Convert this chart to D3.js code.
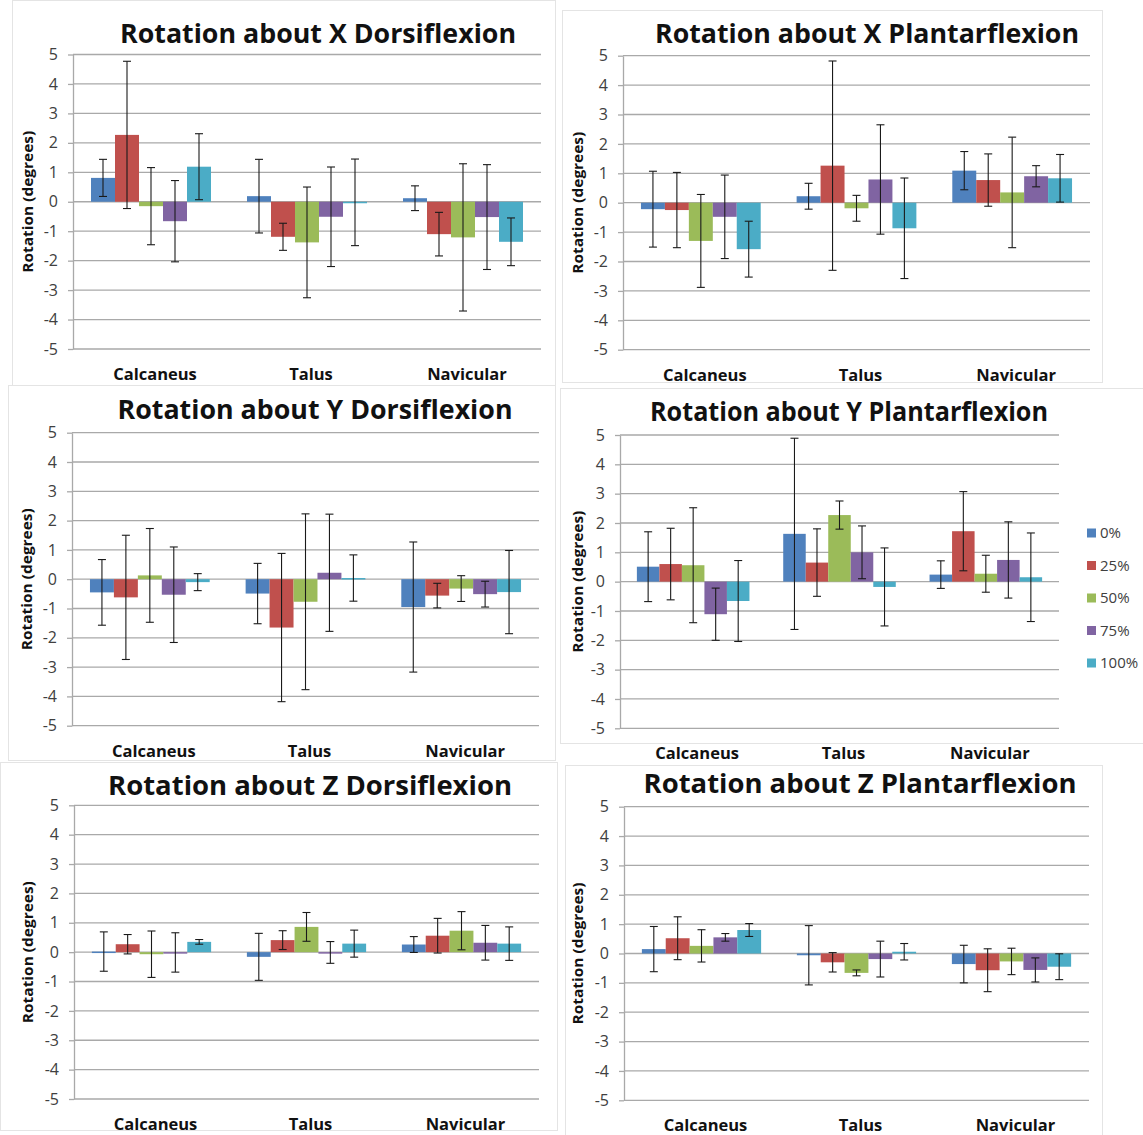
<!DOCTYPE html>
<html>
<head>
<meta charset="utf-8">
<script src="https://cdn.jsdelivr.net/npm/d3@7"></script>
<style>
  body { margin: 0; background: #fff; }
  text { font-family: 'Open Sans', sans-serif; }
</style>
</head>
<body>
<svg id="chart" width="1143" height="1135"></svg>
<script>
const categories = ['Calcaneus', 'Talus', 'Navicular']
const seriesNames = ['0%', '25%', '50%', '75%', '100%']
const yTicks = [-5, -4, -3, -2, -1, 0, 1, 2, 3, 4, 5]

// mean rotation per bone (rows) and load (cols), and the error bar half length
const xDorsiMean = [[0.81, 2.27, -0.15, -0.66, 1.19], [0.19, -1.19, -1.38, -0.51, -0.02], [0.12, -1.10, -1.21, -0.52, -1.36]]
const xDorsiErr = [[0.63, 2.50, 1.31, 1.38, 1.12], [1.25, 0.46, 1.88, 1.69, 1.47], [0.42, 0.74, 2.50, 1.78, 0.81]]

const xPlantarMean = [[-0.22, -0.25, -1.30, -0.48, -1.58], [0.22, 1.26, -0.19, 0.79, -0.87], [1.09, 0.77, 0.35, 0.90, 0.83]]
const xPlantarErr = [[1.29, 1.28, 1.58, 1.42, 0.95], [0.44, 3.56, 0.44, 1.86, 1.71], [0.65, 0.89, 1.88, 0.36, 0.81]]

const yDorsiMean = [[-0.45, -0.62, 0.13, -0.53, -0.10], [-0.49, -1.65, -0.77, 0.22, 0.04], [-0.95, -0.56, -0.32, -0.51, -0.44]]
const yDorsiErr = [[1.12, 2.12, 1.60, 1.63, 0.29], [1.03, 2.53, 3.00, 2.00, 0.79], [2.22, 0.42, 0.44, 0.44, 1.42]]

const yPlantarMean = [[0.51, 0.60, 0.56, -1.11, -0.66], [1.63, 0.65, 2.27, 1.00, -0.18], [0.24, 1.72, 0.27, 0.74, 0.15]]
const yPlantarErr = [[1.19, 1.22, 1.96, 0.89, 1.38], [3.26, 1.15, 0.48, 0.90, 1.33], [0.47, 1.35, 0.63, 1.30, 1.51]]

const zDorsiMean = [[0.02, 0.27, -0.07, -0.01, 0.35], [-0.16, 0.41, 0.86, -0.01, 0.29], [0.26, 0.56, 0.73, 0.32, 0.29]]
const zDorsiErr = [[0.67, 0.33, 0.79, 0.67, 0.08], [0.80, 0.32, 0.49, 0.37, 0.46], [0.27, 0.59, 0.65, 0.59, 0.57]]

const zPlantarMean = [[0.15, 0.52, 0.26, 0.55, 0.80], [-0.06, -0.30, -0.66, -0.19, 0.06], [-0.36, -0.57, -0.27, -0.56, -0.45]]
const zPlantarErr = [[0.77, 0.73, 0.55, 0.13, 0.22], [1.01, 0.33, 0.10, 0.61, 0.28], [0.64, 0.73, 0.45, 0.41, 0.44]]

const colors = ['#4f81bd', '#c0504d', '#9bbb59', '#8064a2', '#4bacc6']

const panels = [
  {title: 'Rotation about X Dorsiflexion', mean: xDorsiMean, err: xDorsiErr,
    left: 73, right: 541, top: 54.5, bottom: 349, titleX: 318, titleY: 43, titleW: 396, labelX: 28, frame: [12, 0, 543, 385]},
  {title: 'Rotation about X Plantarflexion', mean: xPlantarMean, err: xPlantarErr,
    left: 623, right: 1090, top: 55.7, bottom: 349.7, titleX: 867, titleY: 43, titleW: 424, labelX: 578, frame: [562, 10, 540, 372]},
  {title: 'Rotation about Y Dorsiflexion', mean: yDorsiMean, err: yDorsiErr,
    left: 72, right: 539, top: 432.7, bottom: 725.7, titleX: 315, titleY: 419, titleW: 395, labelX: 27, frame: [8, 385, 547, 375]},
  {title: 'Rotation about Y Plantarflexion', mean: yPlantarMean, err: yPlantarErr,
    left: 620, right: 1059, top: 435, bottom: 728.3, titleX: 849, titleY: 421, titleW: 398, labelX: 578, frame: [560, 388, 590, 355], legend: true},
  {title: 'Rotation about Z Dorsiflexion', mean: zDorsiMean, err: zDorsiErr,
    left: 74, right: 539, top: 805.3, bottom: 1099, titleX: 310, titleY: 795, titleW: 404, labelX: 28, frame: [0, 762, 557, 368]},
  {title: 'Rotation about Z Plantarflexion', mean: zPlantarMean, err: zPlantarErr,
    left: 624, right: 1089, top: 806.7, bottom: 1100.3, titleX: 860, titleY: 793, titleW: 433, labelX: 578, frame: [565, 765, 537, 375]}
]

const svg = d3.select('#chart')

const drawPanel = p => {
  const g = svg.append('g')

  g.append('rect')
    .attr('x', p.frame[0] + 0.5)
    .attr('y', p.frame[1] + 0.5)
    .attr('width', p.frame[2])
    .attr('height', p.frame[3])
    .attr('fill', 'none')
    .attr('stroke', '#e4e4e4')

  const y = d3.scaleLinear().domain([-5, 5]).range([p.bottom, p.top])
  const x0 = d3.scaleBand().domain(categories).range([p.left, p.right])
  // excel style gap width of 150%
  const bw = x0.bandwidth() / (seriesNames.length + 1.5)
  const x1 = d3
    .scaleBand()
    .domain(seriesNames)
    .range([0.75 * bw, x0.bandwidth() - 0.75 * bw])

  // gridlines
  g.selectAll('line.grid')
    .data(yTicks)
    .join('line')
    .attr('class', 'grid')
    .attr('x1', p.left)
    .attr('x2', p.right)
    .attr('y1', d => y(d))
    .attr('y2', d => y(d))
    .attr('stroke', '#a9a9a9')
    .attr('stroke-width', 1.3)

  const yAxis = d3
    .axisLeft(y)
    .tickValues(yTicks)
    .tickFormat(d => String(d))
    .tickSize(5)
    .tickSizeOuter(0)
    .tickPadding(10)
  const ax = g.append('g').attr('transform', `translate(${p.left},0)`).call(yAxis)
  ax.select('.domain').attr('stroke', '#a9a9a9').attr('stroke-width', 1.3)
  ax.selectAll('.tick line').attr('stroke', '#a9a9a9').attr('stroke-width', 1.3)
  ax.selectAll('.tick text')
    .attr('fill', '#404040')
    .style('font-size', '16px')
    .style('font-family', "'Open Sans', sans-serif")

  const rows = []
  categories.forEach((c, i) => {
    seriesNames.forEach((s, j) => {
      rows.push({cat: c, ser: s, idx: j, mean: p.mean[i][j], err: p.err[i][j]})
    })
  })

  g.selectAll('rect.bar')
    .data(rows)
    .join('rect')
    .attr('class', 'bar')
    .attr('x', d => x0(d.cat) + x1(d.ser))
    .attr('width', x1.bandwidth())
    .attr('y', d => Math.min(y(d.mean), y(0)))
    .attr('height', d => Math.max(Math.abs(y(d.mean) - y(0)), 1.5))
    .attr('fill', d => colors[d.idx])

  // error bars
  const eb = g.selectAll('g.err')
    .data(rows)
    .join('g')
    .attr('class', 'err')
    .attr('transform', d => `translate(${x0(d.cat) + x1(d.ser) + x1.bandwidth() / 2},0)`)
  eb.append('line')
    .attr('y1', d => y(d.mean + d.err))
    .attr('y2', d => y(d.mean - d.err))
    .attr('stroke', '#1a1a1a')
    .attr('stroke-width', 1.1)
  eb.selectAll('line.cap')
    .data(d => [d.mean + d.err, d.mean - d.err])
    .join('line')
    .attr('class', 'cap')
    .attr('x1', -4)
    .attr('x2', 4)
    .attr('y1', d => y(d))
    .attr('y2', d => y(d))
    .attr('stroke', '#1a1a1a')
    .attr('stroke-width', 1.1)

  // category labels
  g.selectAll('text.cat')
    .data(categories)
    .join('text')
    .attr('class', 'cat')
    .attr('x', d => x0(d) + x0.bandwidth() / 2 + 4)
    .attr('y', p.bottom + 31)
    .attr('text-anchor', 'middle')
    .style('font-size', '16.5px')
    .style('font-weight', 'bold')
    .attr('fill', '#111')
    .text(d => d)

  g.append('text')
    .attr('x', p.titleX)
    .attr('y', p.titleY)
    .attr('text-anchor', 'middle')
    .attr('textLength', p.titleW)
    .attr('lengthAdjust', 'spacingAndGlyphs')
    .style('font-size', '27px')
    .style('font-weight', 'bold')
    .attr('fill', '#111')
    .text(p.title)

  g.append('text')
    .attr('transform', `translate(${p.labelX + 5},${(p.top + p.bottom) / 2}) rotate(-90)`)
    .attr('text-anchor', 'middle')
    .attr('textLength', 142)
    .attr('lengthAdjust', 'spacingAndGlyphs')
    .style('font-size', '15px')
    .style('font-weight', 'bold')
    .attr('fill', '#111')
    .text('Rotation (degrees)')

  if (p.legend) {
    const lg = g.selectAll('g.legend')
      .data(seriesNames)
      .join('g')
      .attr('class', 'legend')
      .attr('transform', (d, i) => `translate(1087,${533 + i * 32.5})`)
    lg.append('rect')
      .attr('x', 0)
      .attr('y', -4.5)
      .attr('width', 9)
      .attr('height', 9)
      .attr('fill', (d, i) => colors[i])
    lg.append('text')
      .attr('x', 13)
      .attr('y', 0)
      .attr('dy', '0.35em')
      .style('font-size', '15px')
      .attr('fill', '#404040')
      .text(d => d)
  }
}

panels.forEach(drawPanel)
</script>
</body>
</html>
